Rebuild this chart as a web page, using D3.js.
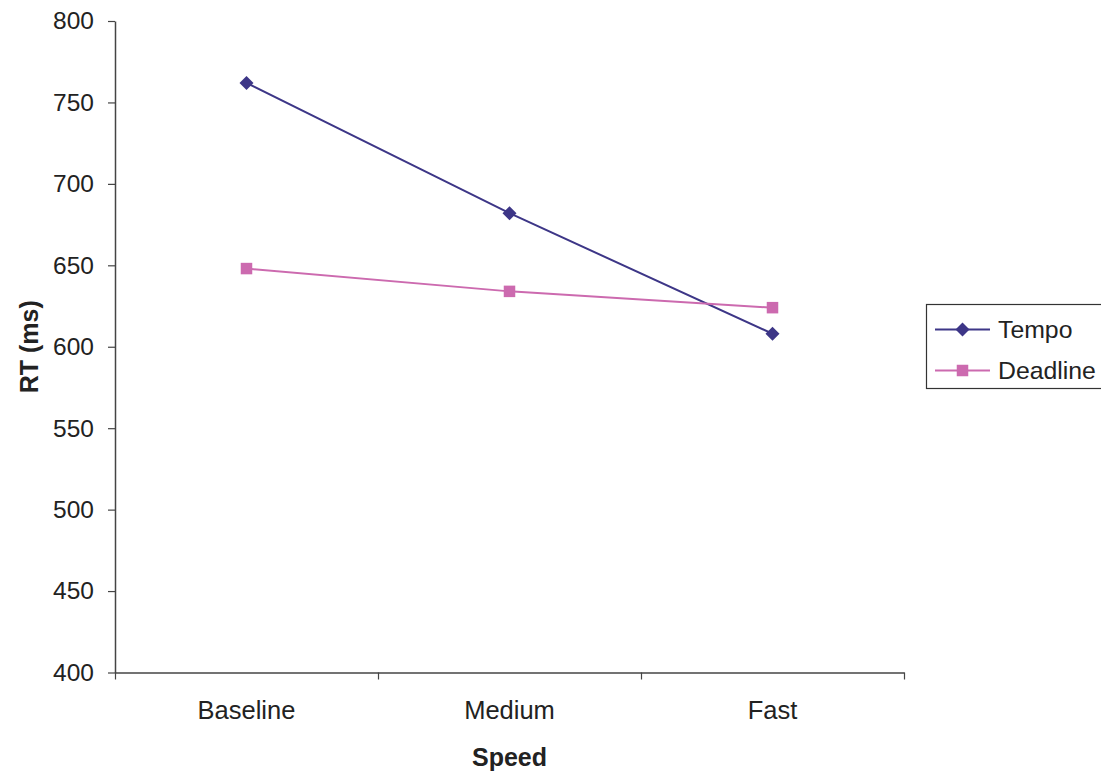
<!DOCTYPE html>
<html>
<head>
<meta charset="utf-8">
<script src="https://cdn.jsdelivr.net/npm/d3@7"></script>
<style>
  html, body { margin: 0; padding: 0; background: #fff; }
  svg { display: block; font-family: "Liberation Sans", Arial, sans-serif; }
</style>
</head>
<body>
<svg id="chart" width="1101" height="780"></svg>
<script>
// Mean response times per speed condition
const categories = ["Baseline", "Medium", "Fast"];
const tempoRT = [762, 682, 608];
const deadlineRT = [648, 634, 624];
const yTicks = [400, 450, 500, 550, 600, 650, 700, 750, 800];
const seriesNames = ["Tempo", "Deadline"];

const series = [
  { name: seriesNames[0], values: tempoRT, color: "#3d3687", marker: "diamond" },
  { name: seriesNames[1], values: deadlineRT, color: "#cc6aaf", marker: "square" }
];

const svg = d3.select("#chart");
const plotLeft = 115, plotRight = 904, plotTop = 21, plotBottom = 672.5;
const axisColor = "#444";

const y = d3.scaleLinear().domain([400, 800]).range([plotBottom, plotTop]);
const xBand = d3.scaleBand().domain(categories).range([plotLeft, plotRight]);
const x = d => xBand(d) + xBand.bandwidth() / 2;
const xEdge = d3.scaleLinear().domain([0, categories.length]).range([plotLeft, plotRight]);

// Y axis
const yAxis = svg.append("g")
  .attr("transform", `translate(${plotLeft},0)`)
  .call(d3.axisLeft(y).tickValues(yTicks).tickSize(7).tickPadding(14).tickSizeOuter(0));
yAxis.select(".domain").attr("stroke", axisColor).attr("stroke-width", 1.5);
yAxis.selectAll(".tick line").attr("stroke", axisColor).attr("stroke-width", 1.2);
yAxis.selectAll(".tick text")
  .attr("font-size", 24.5).attr("fill", "#222")
  .attr("font-family", "'Liberation Sans', Arial, sans-serif");

// X axis with ticks between categories
const xAxis = svg.append("g")
  .attr("transform", `translate(0,${plotBottom})`)
  .call(d3.axisBottom(xEdge).tickValues(d3.range(categories.length + 1)).tickFormat("").tickSize(7).tickSizeOuter(0));
xAxis.select(".domain").attr("stroke", axisColor).attr("stroke-width", 1.5);
xAxis.selectAll(".tick line").attr("stroke", axisColor).attr("stroke-width", 1.2);

// Category labels
svg.append("g").selectAll("text")
  .data(categories).join("text")
  .attr("x", d => x(d)).attr("y", 718.5)
  .attr("text-anchor", "middle")
  .attr("font-size", 25.5).attr("fill", "#222")
  .text(d => d);

// Axis titles
svg.append("text")
  .attr("x", (plotLeft + plotRight) / 2).attr("y", 765.5)
  .attr("text-anchor", "middle")
  .attr("font-size", 25).attr("font-weight", "bold").attr("fill", "#222")
  .text("Speed");

svg.append("text")
  .attr("transform", `translate(38,${(plotTop + plotBottom) / 2}) rotate(-90)`)
  .attr("text-anchor", "middle")
  .attr("font-size", 25).attr("font-weight", "bold").attr("fill", "#222")
  .text("RT (ms)");

// Marker drawing
function drawMarker(g, type, cx, cy, color) {
  if (type === "diamond") {
    const r = 7;
    g.append("path")
      .attr("d", `M${cx},${cy - r}L${cx + r},${cy}L${cx},${cy + r}L${cx - r},${cy}Z`)
      .attr("fill", color);
  } else {
    const s = 11.5;
    g.append("rect")
      .attr("x", cx - s / 2).attr("y", cy - s / 2)
      .attr("width", s).attr("height", s)
      .attr("fill", color);
  }
}

// Lines and markers
const line = d3.line().x((d, i) => x(categories[i])).y(d => y(d));
series.forEach(s => {
  const g = svg.append("g");
  g.append("path")
    .datum(s.values)
    .attr("d", line)
    .attr("fill", "none")
    .attr("stroke", s.color)
    .attr("stroke-width", 2);
  s.values.forEach((v, i) => drawMarker(g, s.marker, x(categories[i]), y(v), s.color));
});

// Legend
const legend = svg.append("g");
legend.append("rect")
  .attr("x", 926.5).attr("y", 304.5)
  .attr("width", 190).attr("height", 84)
  .attr("fill", "#fff").attr("stroke", "#333").attr("stroke-width", 1.2);
const legendRows = [329.5, 370.5];
series.forEach((s, i) => {
  const cy = legendRows[i];
  legend.append("line")
    .attr("x1", 935).attr("x2", 990).attr("y1", cy).attr("y2", cy)
    .attr("stroke", s.color).attr("stroke-width", 2);
  drawMarker(legend, s.marker, 962.5, cy, s.color);
  legend.append("text")
    .attr("x", 998).attr("y", cy)
    .attr("dy", "0.35em")
    .attr("font-size", 24.8).attr("fill", "#222")
    .text(s.name);
});
</script>
</body>
</html>
